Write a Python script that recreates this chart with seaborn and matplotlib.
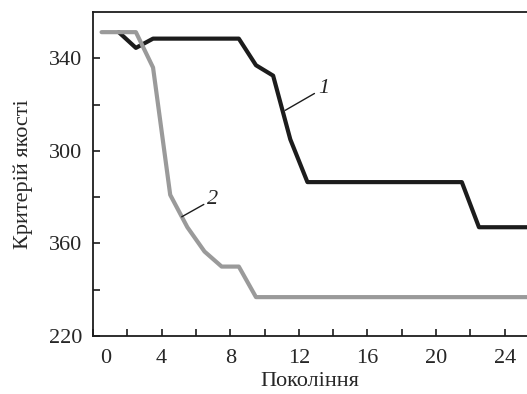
import matplotlib
matplotlib.use("Agg")
import matplotlib.pyplot as plt
import matplotlib.transforms as mtransforms
import seaborn as sns
import pandas as pd

# Дані
pokolinnia_1 = [1.5, 2.5, 3.5, 4.5, 5.5, 6.5, 7.5, 8.5, 9.5, 10.5, 11.5, 12.5,
                13.5, 14.5, 15.5, 16.5, 17.5, 18.5, 19.5, 20.5, 21.5, 22.5, 23.5, 24.5, 25.5]
kryterii_1 = [351.3, 344.5, 348.5, 348.5, 348.5, 348.5, 348.5, 348.5, 337, 332.5, 305, 286.5,
              286.5, 286.5, 286.5, 286.5, 286.5, 286.5, 286.5, 286.5, 286.5, 267, 267, 267, 267]
pokolinnia_2 = [0.5, 1.5, 2.5, 3.5, 4.5, 5.5, 6.5, 7.5, 8.5, 9.5, 10.5, 11.5, 12.5,
                13.5, 14.5, 15.5, 16.5, 17.5, 18.5, 19.5, 20.5, 21.5, 22.5, 23.5, 24.5, 25.5]
kryterii_2 = [351.3, 351.3, 351.3, 336, 281, 267, 256.5, 250, 250, 236.8, 236.8, 236.8, 236.8,
              236.8, 236.8, 236.8, 236.8, 236.8, 236.8, 236.8, 236.8, 236.8, 236.8, 236.8, 236.8, 236.8]
x_ticks = [0, 4, 8, 12, 16, 20, 24]
y_ticks = [220, 260, 300, 340]
y_tick_labels = ["220", "360", "300", "340"]

df1 = pd.DataFrame({"x": pokolinnia_1, "y": kryterii_1})
df2 = pd.DataFrame({"x": pokolinnia_2, "y": kryterii_2})

sns.set_style("ticks")
plt.rcParams["font.family"] = ["Liberation Serif", "DejaVu Serif"]

fig = plt.figure(figsize=(5.27, 3.94), dpi=100)
ax = fig.add_axes([0.1765, 0.1472, 0.8235, 0.8223])

# спочатку чорна крива, сіра поверх неї
sns.lineplot(data=df1, x="x", y="y", color="#1c1c1c", linewidth=3.0, ax=ax, zorder=2)
sns.lineplot(data=df2, x="x", y="y", color="#9a9a9a", linewidth=3.0, ax=ax, zorder=3)

ax.set_xlim(0, 25.3)
ax.set_ylim(220, 360)
ax.set_xticks(x_ticks)
ax.set_xticks(range(0, 26, 2), minor=True)
ax.set_yticks(y_ticks)
ax.set_yticklabels(y_tick_labels)
ax.set_yticks([240, 280, 320], minor=True)
ax.tick_params(which="both", direction="in", length=5, width=1.2, labelsize=16, color="#1c1c1c")
ax.tick_params(axis="y", pad=8)
ax.tick_params(axis="x", pad=9)

for s in ["left", "bottom", "top"]:
    ax.spines[s].set_linewidth(1.3)
    ax.spines[s].set_color("#1c1c1c")
ax.spines["right"].set_visible(False)

# зсув мітки "0" вправо, як на оригіналі
lbl0 = ax.get_xticklabels()[0]
lbl0.set_transform(lbl0.get_transform() + mtransforms.ScaledTranslation(0.13, 0, fig.dpi_scale_trans))

ax.set_xlabel("Покоління", fontsize=16, labelpad=3)
ax.set_ylabel("Критерій якості", fontsize=16, labelpad=11)

# підписи кривих
ax.annotate("1", xy=(11.2, 317.5), xytext=(13.1, 327), fontsize=16, style="italic",
            ha="left", va="center", arrowprops=dict(arrowstyle="-", lw=1.0, color="#1c1c1c", shrinkA=0, shrinkB=0))
ax.annotate("2", xy=(5.17, 271.5), xytext=(6.65, 279), fontsize=16, style="italic",
            ha="left", va="center", arrowprops=dict(arrowstyle="-", lw=1.0, color="#1c1c1c", shrinkA=0, shrinkB=0))

fig.savefig("out.png", dpi=100)
